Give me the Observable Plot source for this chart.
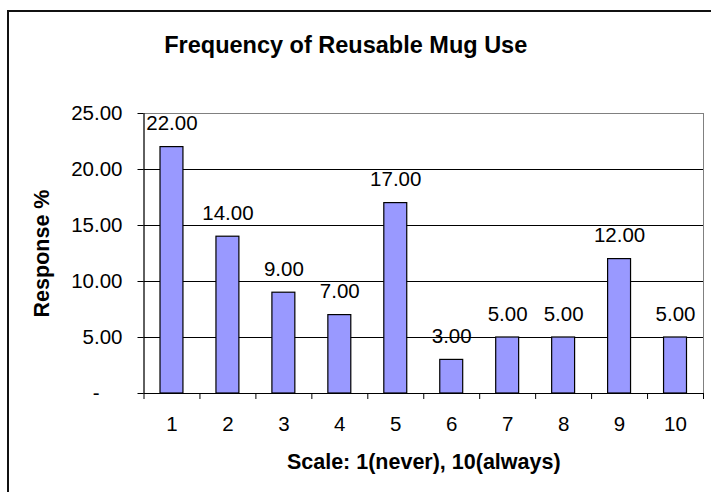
<!DOCTYPE html>
<html><head><meta charset="utf-8">
<script src="https://cdn.jsdelivr.net/npm/d3@7"></script>
<script src="https://cdn.jsdelivr.net/npm/@observablehq/plot@0.6"></script>
<style>
html,body{margin:0;padding:0;background:#fff;}
#wrap{position:relative;width:711px;height:492px;overflow:hidden;}
#border{position:absolute;left:7px;top:10px;width:800px;height:600px;border:2px solid #111;box-sizing:border-box;pointer-events:none;}
</style></head><body>
<div id="wrap"><div id="chart"></div><div id="border"></div></div>
<script>
const scaleLevels = [1, 2, 3, 4, 5, 6, 7, 8, 9, 10];
const responsePct = [22, 14, 9, 7, 17, 3, 5, 5, 12, 5];
const yTicks = [0, 5, 10, 15, 20, 25];
const gridValues = [5, 10, 15, 20];
const titleText = "Frequency of Reusable Mug Use";
const xTitle = "Scale: 1(never), 10(always)";
const yTitle = "Response %";

const data = scaleLevels.map((k, i) => ({k, v: responsePct[i]}));
const boundaries = [0, ...scaleLevels].map(k => k + 0.5);
const halfBar = 0.205;
const font = "'Liberation Sans', Arial, sans-serif";

const chart = Plot.plot({
  width: 711, height: 492,
  marginLeft: 143.5, marginRight: 8, marginTop: 113, marginBottom: 99,
  style: {fontFamily: font, background: "#fff", color: "#000", overflow: "visible"},
  x: {type: "linear", domain: [0.5, 10.5], axis: null},
  y: {domain: [0, 25], axis: null},
  marks: [
    Plot.frame({stroke: "#808080"}),
    Plot.ruleY(gridValues, {stroke: "#000"}),
    Plot.rectY(data, {x1: d => d.k - halfBar, x2: d => d.k + halfBar, y: "v", fill: "#9999FF", stroke: "#000", strokeWidth: 1.2}),
    Plot.ruleY([0], {stroke: "#000"}),
    Plot.ruleX([0.5], {stroke: "#000"}),
    Plot.axisY(yTicks, {anchor: "left", label: null, tickSize: 6, tickPadding: 15.5, fontSize: 20.5,
      tickFormat: d => d === 0 ? "-\u2007\u2007" : d.toFixed(2)}),
    Plot.axisX(boundaries, {anchor: "bottom", label: null, tickSize: 6, tickFormat: () => ""}),
    Plot.axisX(scaleLevels, {anchor: "bottom", label: null, tickSize: 0, tickPadding: 23, fontSize: 20.5}),
    Plot.text(data, {x: "k", y: "v", text: d => d.v.toFixed(2), lineAnchor: "bottom", dy: -17, fontSize: 20.5, fill: "#000"}),
    Plot.text([titleText], {frameAnchor: "top", dx: -78, dy: -61, textAnchor: "middle", lineAnchor: "bottom", fontSize: 23.5, fontWeight: "bold", fill: "#000"}),
    Plot.text([xTitle], {frameAnchor: "bottom", dy: 75.5, textAnchor: "middle", lineAnchor: "bottom", fontSize: 21.5, fontWeight: "bold", fill: "#000"}),
    Plot.text([yTitle], {frameAnchor: "left", dx: -110.5, rotate: -90, textAnchor: "middle", lineAnchor: "top", fontSize: 21.5, fontWeight: "bold", fill: "#000"})
  ]
});
document.getElementById("chart").appendChild(chart);
</script>
</body></html>
